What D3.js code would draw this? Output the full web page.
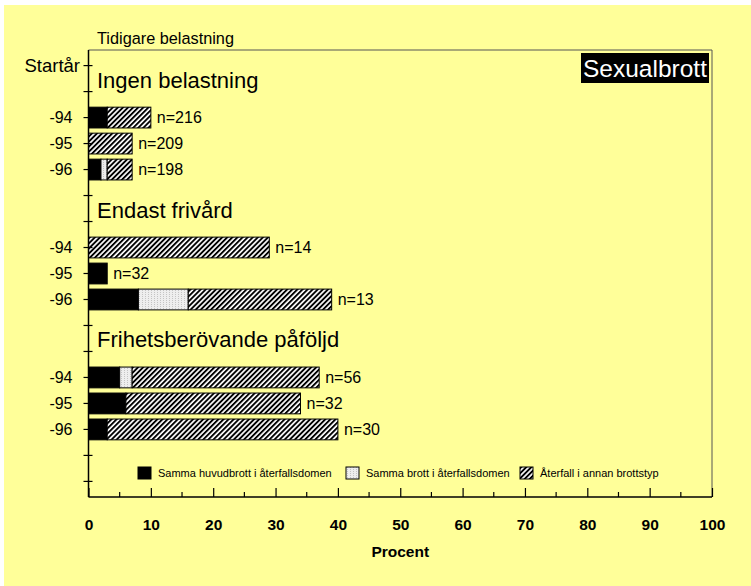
<!DOCTYPE html>
<html>
<script src="https://d3js.org/d3.v7.min.js"></script>
<style>
    body {
        margin: 0;
        background: #fff;
    }

    text {
        font-family: Arial, "Liberation Sans", sans-serif;
    }

    .domain {
        display: none;
    }
</style>

<body>
</body>
<script>
    // värden (procent)
    const groupNames = ["Ingen belastning", "Endast frivård", "Frihetsberövande påföljd"];
    const rowYears = ["-94", "-95", "-96", "-94", "-95", "-96", "-94", "-95", "-96"];
    const rowGroup = [0, 0, 0, 1, 1, 1, 2, 2, 2];
    const sammaHuvudbrott = [3, 0, 2, 0, 3, 8, 5, 6, 3];
    const sammaBrott = [0, 0, 1, 0, 0, 8, 2, 0, 0];
    const annanBrottstyp = [7, 7, 4, 29, 0, 23, 30, 28, 37];
    const nValues = [216, 209, 198, 14, 32, 13, 56, 32, 30];
    const seriesNames = ["Samma huvudbrott i återfallsdomen", "Samma brott i återfallsdomen", "Återfall i annan brottstyp"];
    const xTicks = [0, 10, 20, 30, 40, 50, 60, 70, 80, 90, 100];

    const width = 751,
        height = 586;
    const svg = d3.select("body").append("svg").attr("width", width).attr("height", height);

    const defs = svg.append("defs");
    const hatch = defs.append("pattern")
        .attr("id", "hatch")
        .attr("patternUnits", "userSpaceOnUse")
        .attr("width", 3.6).attr("height", 3.6)
        .attr("patternTransform", "rotate(45)");
    hatch.append("rect").attr("width", 3.6).attr("height", 3.6).attr("fill", "#fff");
    hatch.append("rect").attr("width", 1.9).attr("height", 3.6).attr("fill", "#000");

    const dots = defs.append("pattern")
        .attr("id", "dots")
        .attr("patternUnits", "userSpaceOnUse")
        .attr("width", 3).attr("height", 2);
    dots.append("rect").attr("width", 3).attr("height", 2).attr("fill", "#eeeeee");
    dots.append("rect").attr("x", 1).attr("width", 1).attr("height", 1).attr("fill", "#c4c4c4");

    const fills = ["#000", "url(#dots)", "url(#hatch)"];

    // bakgrund
    svg.append("rect")
        .attr("x", 4).attr("y", 5)
        .attr("width", width - 4).attr("height", height - 5)
        .attr("fill", "#ffff99");

    const x = d3.scaleLinear().domain([0, 100]).range([88.5, 712]);
    // 17 platser längs y: Startår, rubrik, 3 år, tom, rubrik, 3 år, tom, rubrik, 3 år, 2 tomma
    const y = d3.scaleBand().domain(d3.range(17)).range([50, 497]).padding(0.2);
    const slotOf = i => rowGroup[i] * 5 + 2 + (i % 3);
    const center = s => y(s) + y.bandwidth() / 2;

    // ram
    svg.append("path")
        .attr("d", `M${x(0)},50H${x(100)}V497`)
        .attr("fill", "none")
        .attr("stroke", "#555")
        .attr("stroke-width", 1);

    const rows = sammaHuvudbrott.map((d, i) => ({
        i: i,
        a: d,
        b: sammaBrott[i],
        c: annanBrottstyp[i]
    }));
    const stacked = d3.stack().keys(["a", "b", "c"])(rows);

    svg.append("g").selectAll("g")
        .data(stacked)
        .join("g")
        .attr("fill", (d, k) => fills[k])
        .selectAll("rect")
        .data(d => d.filter(e => e[1] > e[0]))
        .join("rect")
        .attr("x", d => x(d[0]))
        .attr("y", d => y(slotOf(d.data.i)))
        .attr("width", d => x(d[1]) - x(d[0]))
        .attr("height", y.bandwidth())
        .attr("stroke", "#000")
        .attr("stroke-width", 1);

    svg.append("g").selectAll("text")
        .data(rows)
        .join("text")
        .attr("x", d => x(d.a + d.b + d.c) + 6)
        .attr("y", d => center(slotOf(d.i)))
        .attr("dy", "0.35em")
        .attr("font-size", 16)
        .text((d, i) => "n=" + nValues[i]);

    // gruppnamn
    svg.append("g").selectAll("text")
        .data(groupNames)
        .join("text")
        .attr("x", 97)
        .attr("y", (d, g) => center(g * 5 + 1) - 4)
        .attr("font-size", 22)
        .text(d => d);

    // y-axel
    const yLabels = {};
    rowYears.forEach((d, i) => yLabels[slotOf(i)] = d);
    const yAxis = svg.append("g")
        .attr("transform", `translate(${x(0)},0)`)
        .call(d3.axisLeft(y).tickSize(4).tickPadding(12).tickFormat(s => yLabels[s] || ""));
    yAxis.selectAll(".tick line").attr("x2", -5).attr("x1", 4).attr("stroke", "#000").attr("stroke-width", 1.2);
    yAxis.selectAll(".tick text").attr("font-size", 16).attr("fill", "#000").style("font-family", "Arial, 'Liberation Sans', sans-serif");
    svg.append("line")
        .attr("x1", x(0)).attr("x2", x(0))
        .attr("y1", 50).attr("y2", 497)
        .attr("stroke", "#000").attr("stroke-width", 1.5);

    svg.append("text")
        .attr("x", 80)
        .attr("y", center(0))
        .attr("dy", "0.35em")
        .attr("text-anchor", "end")
        .attr("font-size", 18.5)
        .text("Startår");

    svg.append("text")
        .attr("x", 97)
        .attr("y", 44)
        .attr("font-size", 16.3)
        .text("Tidigare belastning");

    // x-axel
    const xAxis = svg.append("g")
        .attr("transform", "translate(0,497)")
        .call(d3.axisBottom(x).tickValues(xTicks).tickSize(-9).tickPadding(22));
    xAxis.selectAll(".tick line").attr("stroke", "#000").attr("stroke-width", 1.2);
    xAxis.selectAll(".tick text")
        .attr("font-size", 15.5)
        .attr("font-weight", "bold")
        .attr("fill", "#000")
        .style("font-family", "Arial, 'Liberation Sans', sans-serif");
    svg.append("g").selectAll("line")
        .data(xTicks.slice(0, -1).map(d => d + 5))
        .join("line")
        .attr("x1", d => x(d)).attr("x2", d => x(d))
        .attr("y1", 497).attr("y2", 492)
        .attr("stroke", "#000").attr("stroke-width", 1.2);
    svg.append("line")
        .attr("x1", x(0)).attr("x2", x(100))
        .attr("y1", 497).attr("y2", 497)
        .attr("stroke", "#000").attr("stroke-width", 1.5);

    svg.append("text")
        .attr("x", x(50))
        .attr("y", 557)
        .attr("text-anchor", "middle")
        .attr("font-size", 15.5)
        .attr("font-weight", "bold")
        .text("Procent");

    // titelruta
    const titel = svg.append("g");
    titel.append("rect")
        .attr("x", 581).attr("y", 53)
        .attr("width", 128).attr("height", 30)
        .attr("fill", "#000");
    titel.append("text")
        .attr("x", 645).attr("y", 68)
        .attr("dy", "0.35em")
        .attr("text-anchor", "middle")
        .attr("font-size", 24.5)
        .attr("fill", "#fff")
        .text("Sexualbrott");

    // förklaring
    const legendX = [138, 346, 520];
    const legend = svg.append("g").selectAll("g")
        .data(seriesNames)
        .join("g")
        .attr("transform", (d, k) => `translate(${legendX[k]},467)`);
    legend.append("rect")
        .attr("width", 13).attr("height", 12)
        .attr("fill", (d, k) => fills[k])
        .attr("stroke", "#000");
    legend.append("text")
        .attr("x", 20).attr("y", 6)
        .attr("dy", "0.35em")
        .attr("font-size", 11)
        .text(d => d);
</script>

</html>
